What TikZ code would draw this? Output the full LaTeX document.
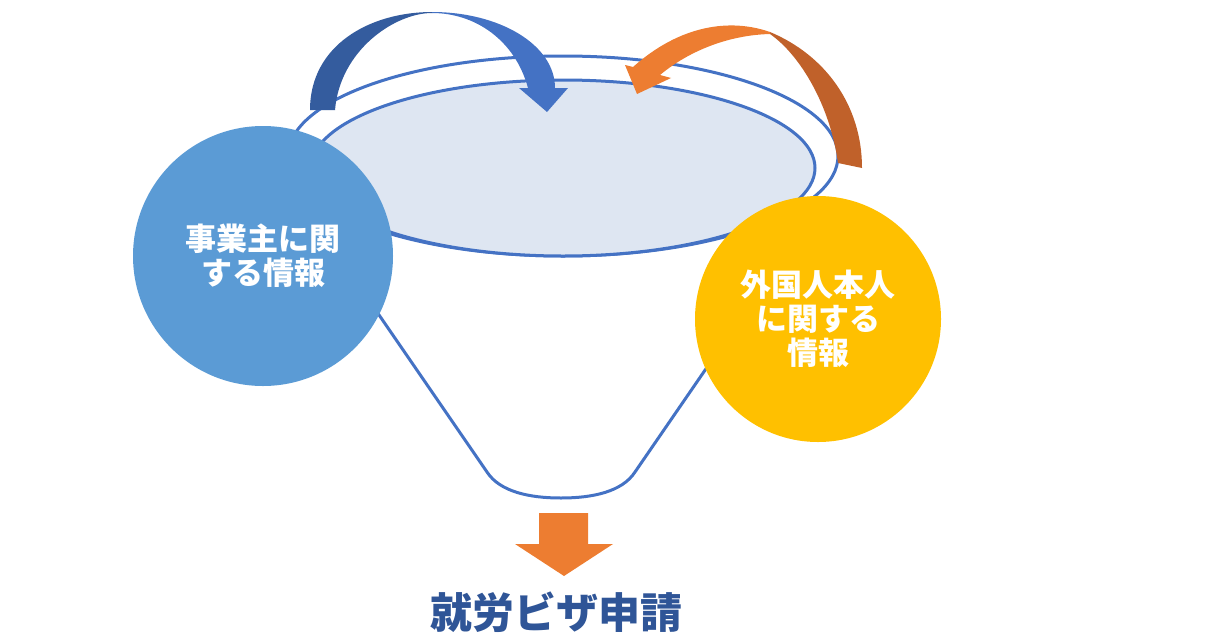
\documentclass[tikz,border=0pt]{standalone}
\usepackage{fontspec}
\newfontfamily\cjk{Noto Sans CJK JP}
\definecolor{funblue}{HTML}{4472C4}
\definecolor{darkblue}{HTML}{345C9E}
\definecolor{topfill}{HTML}{DEE6F2}
\definecolor{circblue}{HTML}{5B9BD5}
\definecolor{circyellow}{HTML}{FFC000}
\definecolor{orangec}{HTML}{ED7D31}
\definecolor{darkorange}{HTML}{C0612A}
\definecolor{titleblue}{HTML}{2F5597}
\begin{document}
\begin{tikzpicture}[x=1pt,y=-1pt,
  funline/.style={draw=funblue,line width=3pt,line join=round},
  infocirc/.style={circle,inner sep=0pt,text=white,align=center,
    font=\cjk\bfseries\fontsize{31}{34}\selectfont},
  titletext/.style={text=titleblue,font=\cjk\bfseries\fontsize{42}{46}\selectfont}]
\useasboundingbox (0,0) rectangle (1228,640);
% funnel body
\draw[funline] (300,200) -- (487,472) .. controls (500,492) and (530,498) .. (561,498)
  .. controls (592,498) and (622,492) .. (635,472) -- (822,200);
% funnel top rings
\draw[funline,fill=white] (563,156) ellipse [x radius=275, y radius=100];
\draw[funline,fill=topfill] (563,168) ellipse [x radius=252, y radius=88];
% circles
\node[infocirc,fill=circblue,minimum size=260pt] (emp) at (263,256) {事業主に関\\する情報};
\node[infocirc,fill=circyellow,minimum size=246pt] (for) at (818,319) {外国人本人\\に関する\\情報};
% blue curved arrow
\fill[darkblue] (310,110) -- (335,110) .. controls (340,50) and (395,13) .. (432,13)
  -- (432,12) .. controls (370,12) and (310,45) .. (310,110) -- cycle;
\fill[funblue] (432,12) .. controls (500,12) and (555,45) .. (555,88) -- (568,88) -- (547,112)
  -- (519,88) -- (528,88) .. controls (515,40) and (475,13) .. (432,13) -- cycle;
% orange curved arrow
\fill[darkorange] (838,163) -- (862,168) .. controls (862,105) and (825,55) .. (770,32)
  -- (770,34) .. controls (800,55) and (830,105) .. (838,163) -- cycle;
\fill[orangec] (770,32) .. controls (730,18) and (680,25) .. (633,67) -- (625,65) -- (637,94)
  -- (671,78) -- (660,75) .. controls (690,50) and (730,35) .. (770,34) -- cycle;
% down arrow
\fill[orangec] (539,513) -- (588,513) -- (588,544) -- (613,544) -- (564,576)
  -- (515,544) -- (539,544) -- cycle;
\node[titletext] (visa) at (556,612) {就労ビザ申請};
\end{tikzpicture}
\end{document}
